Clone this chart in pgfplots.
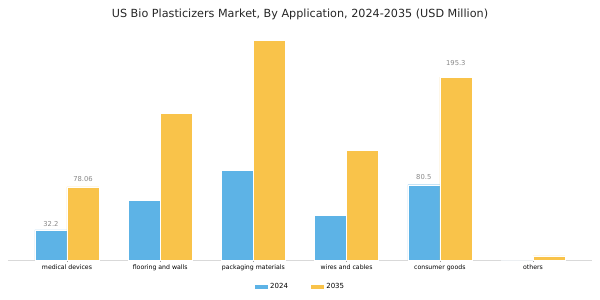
\documentclass[border=0pt]{standalone}
\usepackage{pgfplots}
\pgfplotsset{compat=1.18}
\usepackage{fontspec}
\setmainfont{DejaVu Sans}
\definecolor{cblue}{HTML}{5DB3E6}
\definecolor{corange}{HTML}{F9C34A}
\definecolor{lblgray}{HTML}{888888}
\begin{document}
\begin{tikzpicture}[x=1pt,y=1pt]
\begin{axis}[
  at={(0,0)}, anchor=south west,
  scale only axis, width=584pt, height=234pt,
  xmin=-0.633, xmax=5.633, ymin=0, ymax=250,
  ybar, bar width=32pt,
  axis x line*=bottom, axis y line=none,
  axis line style={draw=black!15, line width=0.6pt},
  xtick={0,1,2,3,4,5},
  xticklabels={medical devices,flooring and walls,packaging materials,wires and cables,consumer goods,others},
  xticklabel style={font=\fontsize{6.2}{7}\selectfont, yshift=1pt},
  major tick length=2pt,
  tick style={draw=black!40, line width=0.4pt},
  title={US Bio Plasticizers Market, By Application, 2024-2035 (USD Million)},
  title style={at={(0.5,1.023)}, anchor=center, yshift=0pt, font=\fontsize{11.2}{13}\selectfont, text=black!85},
  legend style={at={(0.5,-0.115)}, anchor=center, draw=none, legend columns=2,
    font=\fontsize{7}{8}\selectfont,
    /tikz/every even column/.append style={column sep=20pt}},
  legend image code/.code={\fill[#1] (0pt,-2.5pt) rectangle (14pt,2.5pt);},
  clip=false,
]
\addplot[fill=cblue, draw=white, line width=0.3pt, bar shift=-16pt] coordinates {(0,32.2) (1,64) (2,96) (3,48) (4,80.5) (5,0)};
\addplot[fill=corange, draw=white, line width=0.3pt, bar shift=16pt] coordinates {(0,78.06) (1,157) (2,235) (3,117) (4,195.3) (5,4.5)};
\legend{2024,2035}
\node[font=\fontsize{6.8}{7}\selectfont, text=lblgray] at (axis cs:-0.172,38.5) {32.2};
\node[font=\fontsize{6.8}{7}\selectfont, text=lblgray] at (axis cs:0.172,86.5) {78.06};
\node[font=\fontsize{6.8}{7}\selectfont, text=lblgray] at (axis cs:3.828,89) {80.5};
\node[font=\fontsize{6.8}{7}\selectfont, text=lblgray] at (axis cs:4.172,210) {195.3};
\end{axis}
\pgfresetboundingbox
\path[use as bounding box] (-8pt,-40pt) rectangle (592pt,260pt);
\end{tikzpicture}
\end{document}
